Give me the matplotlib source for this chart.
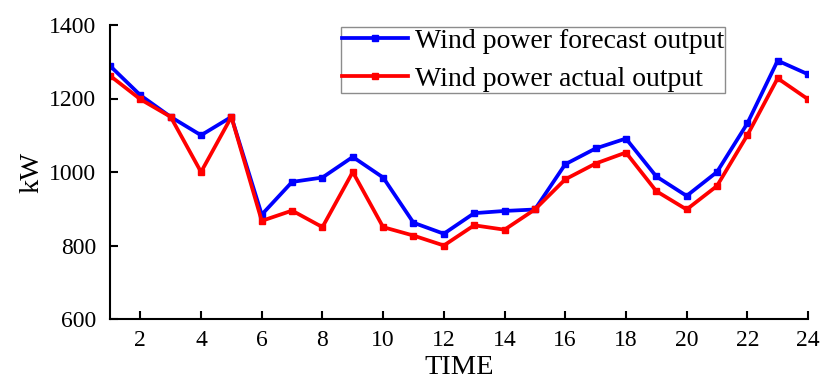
import numpy as np
import matplotlib.pyplot as plt

plt.rcParams['font.family'] = ['Liberation Serif', 'DejaVu Serif']
plt.rcParams['mathtext.fontset'] = 'stix'

hours = list(range(1, 25))
forecast = [1289, 1209, 1150, 1100, 1150, 884, 973, 985, 1041, 985, 862, 832,
            888, 894, 898, 1021, 1064, 1091, 988, 935, 1000, 1132, 1303, 1266]
actual = [1262, 1198, 1150, 1000, 1150, 867, 895, 850, 1000, 850, 827, 800,
          855, 843, 898, 980, 1023, 1053, 948, 898, 962, 1100, 1255, 1198]
xticks = list(range(2, 25, 2))
yticks = [600, 800, 1000, 1200, 1400]

fig = plt.figure(figsize=(8.21, 3.83), dpi=100)
ax = fig.add_axes([110 / 821, 1 - 319 / 383, 698 / 821, 294 / 383])

ax.plot(hours, forecast, color='#0000ff', lw=2.7, marker='s', ms=4,
        label='Wind power forecast output')
ax.plot(hours, actual, color='#ff0000', lw=2.7, marker='s', ms=4,
        label='Wind power actual output')

ax.set_xlim(1, 24)
ax.set_ylim(600, 1400)
ax.set_xticks(xticks)
ax.set_yticks(yticks)
ax.tick_params(direction='in', length=6, width=1.5, labelsize=17)
ax.tick_params(axis='x', pad=8)
ax.tick_params(axis='y', pad=10)
ax.spines['top'].set_visible(False)
ax.spines['right'].set_visible(False)
for s in ('left', 'bottom'):
    ax.spines[s].set_linewidth(1.5)

ax.set_xlabel('TIME', fontsize=20.5, labelpad=3)
ax.set_ylabel('kW', fontsize=20.5, labelpad=3)

leg = ax.legend(loc='upper left', bbox_to_anchor=(0.331, 0.993), fontsize=20,
                frameon=True, fancybox=False, edgecolor='#707070',
                handlelength=2.35, handletextpad=0.25, borderpad=0.05,
                labelspacing=0.45, borderaxespad=0)
leg.get_frame().set_linewidth(1.0)

fig.savefig('out.png', dpi=100)
